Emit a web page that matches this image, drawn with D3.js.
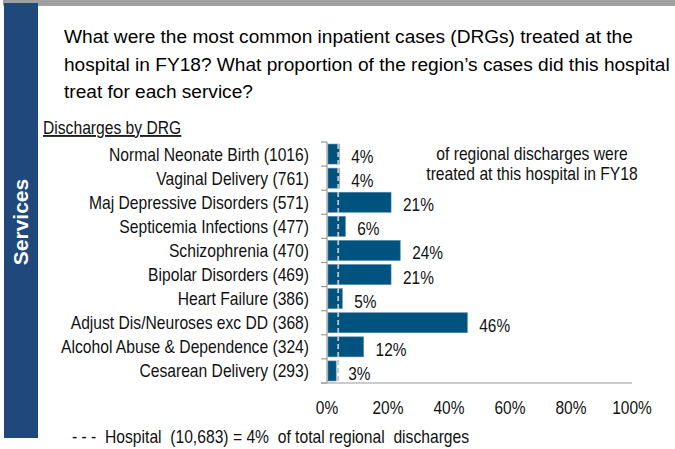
<!DOCTYPE html>
<html>
<head>
<meta charset="utf-8">
<script src="https://cdn.jsdelivr.net/npm/d3@7"></script>
<style>
  body { margin: 0; background: #fff; }
  svg { display: block; font-family: "Liberation Sans", Arial, sans-serif; }
</style>
</head>
<body>
<svg id="chart" width="675" height="449"></svg>
<script>
// data
const drgNames = ["Normal Neonate Birth", "Vaginal Delivery", "Maj Depressive Disorders",
  "Septicemia Infections", "Schizophrenia", "Bipolar Disorders", "Heart Failure",
  "Adjust Dis/Neuroses exc DD", "Alcohol Abuse & Dependence", "Cesarean Delivery"];
const drgCounts = [1016, 761, 571, 477, 470, 469, 386, 368, 324, 293];
const regionalShare = [4, 4, 21, 6, 24, 21, 5, 46, 12, 3];
const xTicks = [0, 20, 40, 60, 80, 100];
const hospitalShare = 4;
const hospitalTotal = "10,683";

const svg = d3.select("#chart");
const fs = 17.8;
const sx = 0.88; // the source text is slightly condensed
const place = (px, py) => `translate(${px},${py}) scale(${sx},1)`;

// header bar + side band
svg.append("rect").attr("x", 3).attr("y", 0).attr("width", 672).attr("height", 6).attr("fill", "#a0a0a0");
svg.append("rect").attr("x", 4).attr("y", 3).attr("width", 34).attr("height", 435).attr("fill", "#1f497d");
svg.append("text")
    .attr("transform", "translate(27.5,222) rotate(-90)")
    .attr("text-anchor", "middle")
    .attr("fill", "#fff")
    .attr("font-weight", "bold")
    .attr("font-size", 21)
    .text("Services");

// title
const titleLines = ["What were the most common inpatient cases (DRGs) treated at the",
  "hospital in FY18? What proportion of the region\u2019s cases did this hospital",
  "treat for each service?"];
svg.append("g").selectAll("text")
  .data(titleLines)
  .join("text")
    .attr("x", 64)
    .attr("y", (d, i) => 43 + i * 27.5)
    .attr("font-size", 19.1)
    .attr("fill", "#000")
    .text(d => d);

svg.append("text")
    .attr("transform", place(43, 134))
    .attr("font-size", fs)
    .attr("text-decoration", "underline")
    .attr("fill", "#111")
    .text("Discharges by DRG");

// scales
const x = d3.scaleLinear().domain([0, 100]).range([327, 632]);
const y = d3.scaleBand().domain(drgNames).range([142, 383]).paddingInner(0.17).paddingOuter(0.085);
const step = y.step();

const rows = drgNames.map((d, i) => ({name: d, count: drgCounts[i], pct: regionalShare[i]}));

// bars
svg.append("g").selectAll("rect")
  .data(rows)
  .join("rect")
    .attr("x", x(0) + 1)
    .attr("y", d => y(d.name))
    .attr("width", d => x(d.pct) - x(0) - 1)
    .attr("height", y.bandwidth())
    .attr("fill", "#00527f")
    .attr("stroke", "#4d86a8")
    .attr("stroke-width", 0.6);

// hospital average dashed line
svg.append("line")
    .attr("x1", x(hospitalShare) - 1).attr("x2", x(hospitalShare) - 1)
    .attr("y1", 144).attr("y2", 383)
    .attr("stroke", "#c4c4c4")
    .attr("stroke-width", 1.8)
    .attr("stroke-dasharray", "5,3");

// left axis with ticks between categories
const yAxis = svg.append("g");
yAxis.append("line")
    .attr("x1", x(0)).attr("x2", x(0))
    .attr("y1", 142).attr("y2", 383)
    .attr("stroke", "#9a9a9a").attr("stroke-width", 1.2);
yAxis.selectAll(".tk")
  .data(d3.range(drgNames.length + 1))
  .join("line")
    .attr("class", "tk")
    .attr("x1", x(0) - 6).attr("x2", x(0))
    .attr("y1", i => 142 + i * step).attr("y2", i => 142 + i * step)
    .attr("stroke", "#9a9a9a").attr("stroke-width", 1.2);

// bottom axis
svg.append("line")
    .attr("x1", x(0) - 6).attr("x2", x(100))
    .attr("y1", 383).attr("y2", 383)
    .attr("stroke", "#9a9a9a").attr("stroke-width", 1.2);
svg.append("g").selectAll("text")
  .data(xTicks)
  .join("text")
    .attr("transform", d => place(x(d), 414))
    .attr("text-anchor", "middle")
    .attr("font-size", 17.6)
    .attr("fill", "#111")
    .text(d => d + "%");

// category labels
svg.append("g").selectAll("text")
  .data(rows)
  .join("text")
    .attr("transform", d => place(309, y(d.name) + y.bandwidth() / 2 + 6.5))
    .attr("text-anchor", "end")
    .attr("font-size", fs)
    .attr("fill", "#111")
    .text(d => `${d.name} (${d.count})`);

// value labels
svg.append("g").selectAll("text")
  .data(rows)
  .join("text")
    .attr("transform", d => place(x(d.pct) + 12, y(d.name) + y.bandwidth() / 2 + 9))
    .attr("font-size", 17.5)
    .attr("fill", "#111")
    .text(d => d.pct + "%");

// annotation
svg.append("g").selectAll("text")
  .data(["of regional discharges were", "treated at this hospital in FY18"])
  .join("text")
    .attr("transform", (d, i) => place(532, 160 + i * 20))
    .attr("text-anchor", "middle")
    .attr("font-size", fs)
    .attr("fill", "#111")
    .text(d => d);

// footer note
svg.append("text")
    .attr("transform", place(72, 443))
    .attr("font-size", fs)
    .attr("fill", "#111")
    .attr("xml:space", "preserve")
    .style("white-space", "pre")
    .text(`- - -  Hospital  (${hospitalTotal}) = ${hospitalShare}%  of total regional  discharges`);
</script>
</body>
</html>
